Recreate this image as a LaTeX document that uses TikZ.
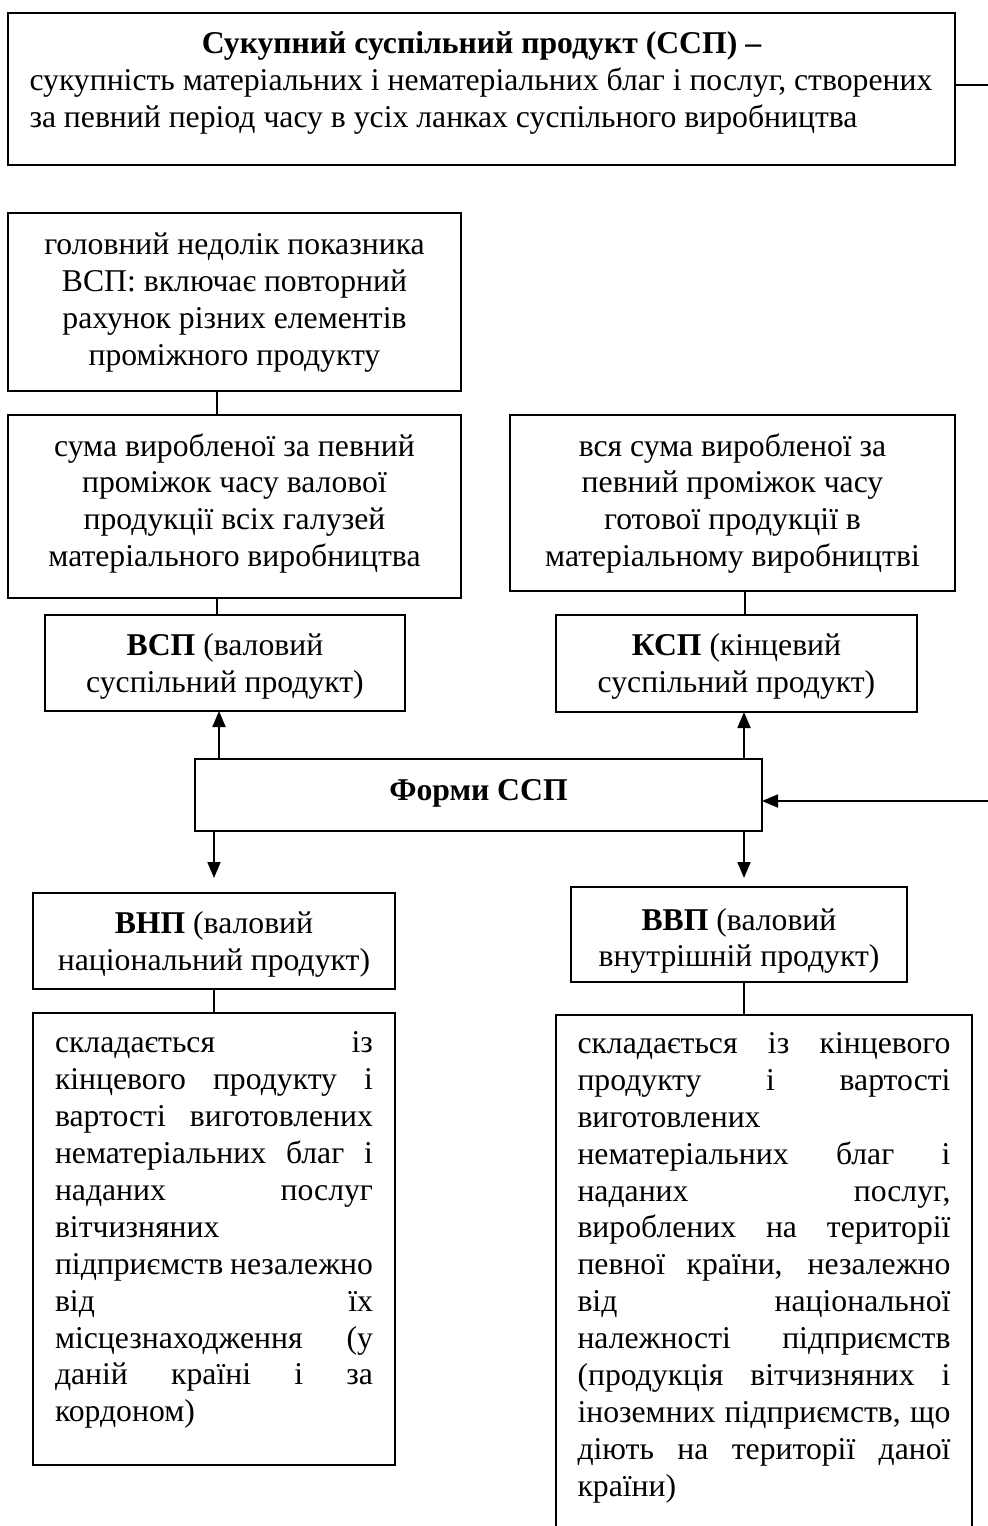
\documentclass[tikz,border=0pt]{standalone}
\usepackage{fontspec}
\setmainfont{Liberation Serif}
\usetikzlibrary{arrows.meta}
\newcommand{\cellbox}[4]{\parbox[c][#2][t]{#1}{\vspace*{#3}\centering #4}}
\newcommand{\jline}[1]{\makebox[\linewidth][s]{\strut #1}\par}
\newcommand{\lline}[1]{\mbox{\strut #1}\par}
\begin{document}
\begin{tikzpicture}[x=0.5pt,y=-0.5pt,
  bx/.style={draw, line width=1.1pt, inner sep=0pt, outer sep=0pt, font=\fontsize{15.85}{18.45}\selectfont},
  conn/.style={line width=0.9pt},
  arr/.style={conn, -{Triangle[length=8pt,width=6.5pt]}}]
\useasboundingbox (0,0) rectangle (987,1526);
\fill[white] (0,0) rectangle (987,1526);

\node[bx] (ssp) at (481.5,89) {\cellbox{473.5pt}{76pt}{7.4pt}{\parbox[t]{452pt}{\centering\strut\textbf{Сукупний суспільний продукт (ССП) –}\par\raggedright
\lline{сукупність матеріальних і нематеріальних благ і послуг, створених}
\lline{за певний період часу в усіх ланках суспільного виробництва}}}};

\node[bx] (def) at (234.5,302) {\cellbox{226.5pt}{89pt}{7.9pt}{\strut головний недолік показника\\\strut ВСП: включає повторний\\\strut рахунок різних елементів\\\strut проміжного продукту}};

\node[bx] (vspdef) at (234.5,506.5) {\cellbox{226.5pt}{91.5pt}{7.6pt}{\strut сума виробленої за певний\\\strut проміжок часу валової\\\strut продукції всіх галузей\\\strut матеріального виробництва}};

\node[bx] (kspdef) at (732.5,503) {\cellbox{222.5pt}{88pt}{7.6pt}{\strut вся сума виробленої за\\\strut певний проміжок часу\\\strut готової продукції в\\\strut матеріальному виробництві}};

\node[bx] (vsp) at (225,663) {\cellbox{180pt}{48pt}{7.3pt}{\strut\textbf{ВСП} (валовий\\\strut суспільний продукт)}};

\node[bx] (ksp) at (736.5,663.5) {\cellbox{180.5pt}{48.5pt}{7.3pt}{\strut\textbf{КСП} (кінцевий\\\strut суспільний продукт)}};

\node[bx] (forms) at (478.5,795) {\cellbox{283.5pt}{36pt}{7.8pt}{\strut\textbf{Форми ССП}}};

\node[bx] (vnp) at (214,941) {\cellbox{181pt}{48pt}{7.3pt}{\strut\textbf{ВНП} (валовий\\\strut національний продукт)}};

\node[bx] (vvp) at (739,934.5) {\cellbox{168pt}{47.5pt}{8.6pt}{\strut\textbf{ВВП} (валовий\\\strut внутрішній продукт)}};

\node[bx] (vnptext) at (214,1239) {\cellbox{181pt}{226pt}{7pt}{\parbox[t]{159pt}{%
\jline{складається із}
\jline{кінцевого продукту і}
\jline{вартості виготовлених}
\jline{нематеріальних благ і}
\jline{наданих послуг}
\lline{вітчизняних}
\jline{підприємств незалежно}
\jline{від їх}
\jline{місцезнаходження (у}
\jline{даній країні і за}
\lline{кордоном)}}}};

\node[bx] (vvptext) at (764,1287.5) {\cellbox{208pt}{272.5pt}{6.3pt}{\parbox[t]{186.5pt}{%
\jline{складається із кінцевого}
\jline{продукту і вартості}
\lline{виготовлених}
\jline{нематеріальних благ і}
\jline{наданих послуг,}
\jline{вироблених на території}
\jline{певної країни, незалежно}
\jline{від національної}
\jline{належності підприємств}
\jline{(продукція вітчизняних і}
\jline{іноземних підприємств, що}
\jline{діють на території даної}
\lline{країни)}}}};

\coordinate (xa) at (217,0);
\coordinate (xb) at (745,0);
\coordinate (xc) at (219,0);
\coordinate (xd) at (744,0);
\coordinate (xe) at (214,0);
\coordinate (dl) at (214,878);
\coordinate (dr) at (744,878);
\coordinate (r1) at (1000,85);
\coordinate (r2) at (1000,801);

\draw[conn] (def.south -| xa) -- (vspdef.north -| xa);
\draw[conn] (vspdef.south -| xa) -- (vsp.north -| xa);
\draw[conn] (kspdef.south -| xb) -- (ksp.north -| xb);
\draw[arr] (forms.north -| xc) -- (vsp.south -| xc);
\draw[arr] (forms.north -| xd) -- (ksp.south -| xd);
\draw[arr] (forms.south -| dl) -- (dl);
\draw[arr] (forms.south -| dr) -- (dr);
\draw[conn] (vnp.south -| xe) -- (vnptext.north -| xe);
\draw[conn] (vvp.south -| xd) -- (vvptext.north -| xd);
\draw[arr] (ssp.east |- r1) -- (r1) -- (r2) -- (forms.east |- r2);
\end{tikzpicture}
\end{document}
